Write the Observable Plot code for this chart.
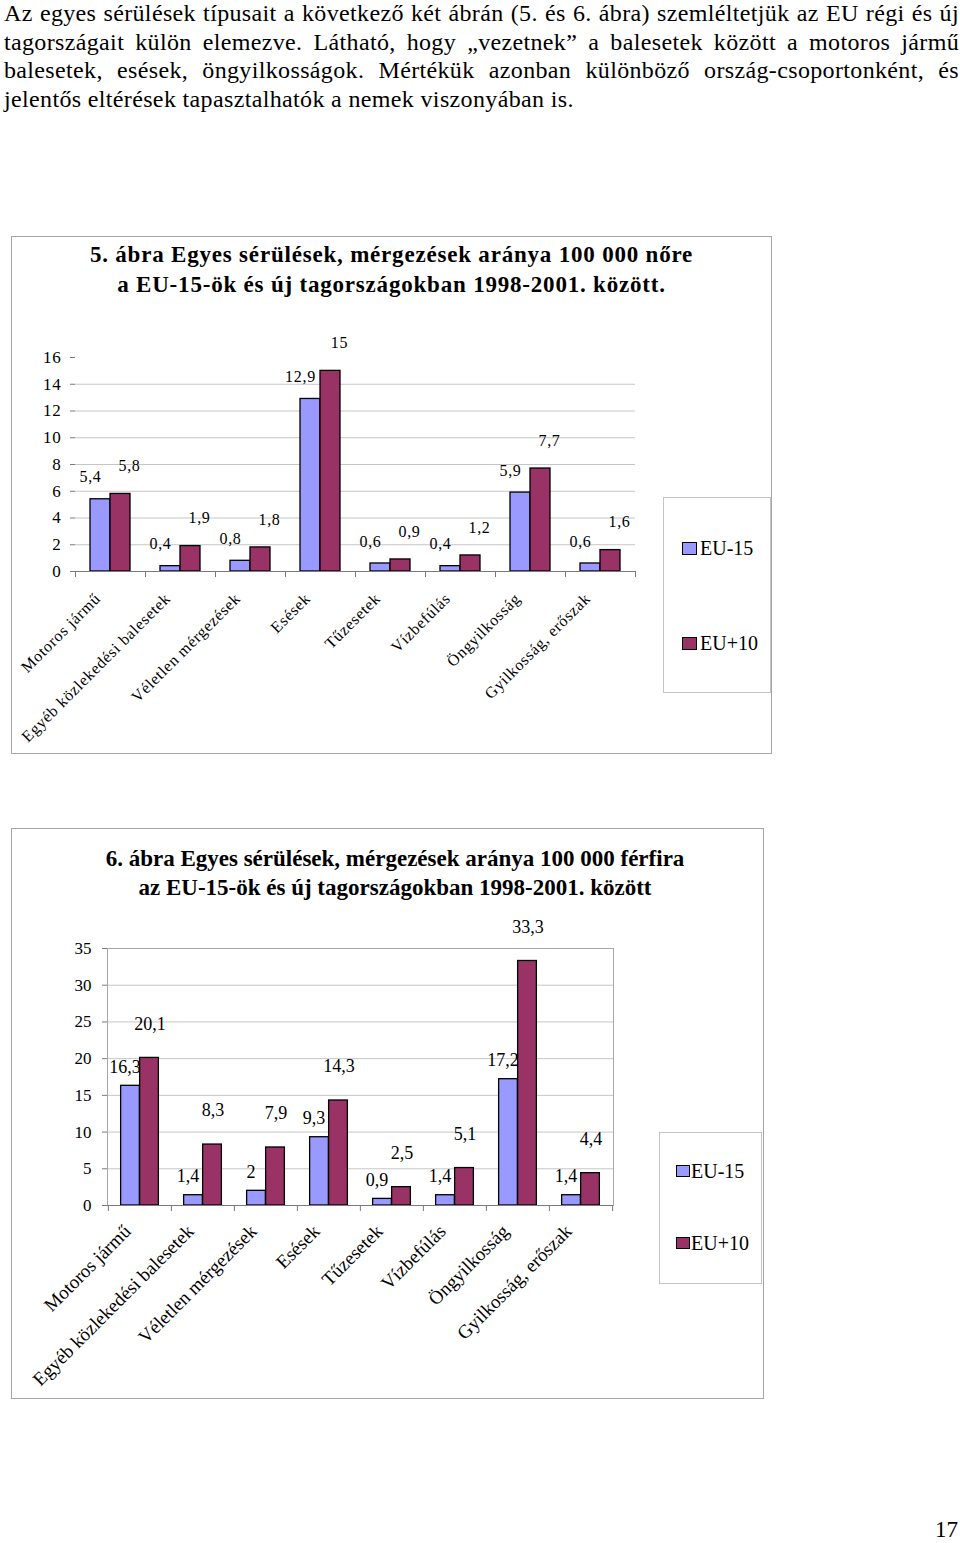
<!DOCTYPE html>
<html>
<head>
<meta charset="utf-8">
<script src="https://cdn.jsdelivr.net/npm/d3@7"></script>
<script src="https://cdn.jsdelivr.net/npm/@observablehq/plot@0.6"></script>
<style>
  body { margin: 0; background: #fff; color: #000; font-family: "Liberation Serif", "Times New Roman", serif; }
  #page { position: relative; width: 960px; height: 1543px; overflow: hidden; background: #fff; }
  .para { position: absolute; left: 4px; top: -1px; width: 955px; font-size: 24px; line-height: 28.7px; letter-spacing: 0.35px; }
  .para .j { text-align: justify; text-align-last: justify; white-space: nowrap; }
  .box { position: absolute; border: 1px solid #a6a6a6; box-sizing: border-box; }
  .title { position: absolute; text-align: center; font-weight: bold; font-size: 23px; }
  .legend { position: absolute; border: 1px solid #c4c4c4; box-sizing: border-box; }
  .sw { position: absolute; border: 1px solid #000; box-sizing: border-box; }
  .lt { position: absolute; font-size: 20px; line-height: 20px; }
  .chart { position: absolute; }
  #c1 svg text { letter-spacing: 0.7px; }
  .pn { position: absolute; right: 2px; top: 1517px; font-size: 23px; }
</style>
</head>
<body>
<div id="page">
  <div class="para">
    <div class="j">Az egyes sérülések típusait a következő két ábrán (5. és 6. ábra) szemléltetjük az EU régi és új</div>
    <div class="j">tagországait külön elemezve. Látható, hogy „vezetnek” a balesetek között a motoros jármű</div>
    <div class="j">balesetek, esések, öngyilkosságok. Mértékük azonban különböző ország-csoportonként, és</div>
    <div>jelentős eltérések tapasztalhatók a nemek viszonyában is.</div>
  </div>

  <div class="box" style="left:11px; top:236px; width:761px; height:518px;"></div>
  <div class="title" id="t1" style="left:11px; top:240px; width:761px; line-height:30px; letter-spacing:0.8px;"></div>
  <div class="chart" id="c1" style="left:0px; top:330px;"></div>
  <div class="legend" id="lg1" style="left:663px; top:497px; width:108px; height:196px;"></div>

  <div class="box" style="left:11px; top:828px; width:753px; height:571px;"></div>
  <div class="title" id="t2" style="left:19px; top:844px; width:752px; line-height:29px;"></div>
  <div class="chart" id="c2" style="left:0px; top:930px;"></div>
  <div class="legend" id="lg2" style="left:659px; top:1132px; width:103px; height:152px;"></div>

  <div class="pn">17</div>
</div>

<script>
// ---- data ----
const categories = ["Motoros jármű", "Egyéb közlekedési balesetek", "Véletlen mérgezések", "Esések",
                    "Tűzesetek", "Vízbefúlás", "Öngyilkosság", "Gyilkosság, erőszak"];
const seriesNames = ["EU-15", "EU+10"];
const seriesColors = ["#9999ff", "#993366"];
const women15 = [5.4, 0.4, 0.8, 12.9, 0.6, 0.4, 5.9, 0.6];
const women10 = [5.8, 1.9, 1.8, 15, 0.9, 1.2, 7.7, 1.6];
const men15 = [16.3, 1.4, 2, 9.3, 0.9, 1.4, 17.2, 1.4];
const men10 = [20.1, 8.3, 7.9, 14.3, 2.5, 5.1, 33.3, 4.4];
const yTicks1 = [0, 2, 4, 6, 8, 10, 12, 14, 16];
const yTicks2 = [0, 5, 10, 15, 20, 25, 30, 35];
const title1 = ["5. ábra Egyes sérülések, mérgezések aránya 100 000 nőre",
                "a EU-15-ök és új tagországokban 1998-2001. között."];
const title2 = ["6. ábra Egyes sérülések, mérgezések aránya 100 000 férfira",
                "az EU-15-ök és új tagországokban 1998-2001. között"];

// ---- helpers ----
const fmt = v => String(v).replace(".", ",");

function drawChart(el, o) {
  const rows = categories.map((c, i) => ({cat: c, eu15: o.v15[i], eu10: o.v10[i]}));
  const bw = (o.width - o.ml - o.mr) / categories.length;
  const half = bw / 2;
  const marks = [
    Plot.ruleY(o.grid, {stroke: "#c6c6c6", strokeWidth: 1}),
  ];
  if (o.frame) marks.push(Plot.frame({stroke: "#a8a8a8"}));
  marks.push(
    Plot.barY(rows, {x: "cat", y: "eu15", fill: seriesColors[0], stroke: "#000", strokeWidth: 1.3,
                     insetLeft: half - o.barW, insetRight: half}),
    Plot.barY(rows, {x: "cat", y: "eu10", fill: seriesColors[1], stroke: "#000", strokeWidth: 1.3,
                     insetLeft: half, insetRight: half - o.barW}),
    Plot.ruleY([0], {stroke: "#7a7a7a"}),
    Plot.ruleX(categories, {x: d => d, y1: 0, y2: 0, dx: -half, insetBottom: -6, stroke: "#7a7a7a"}),
    Plot.ruleX(categories.slice(-1), {x: d => d, y1: 0, y2: 0, dx: half, insetBottom: -6, stroke: "#7a7a7a"}),
    Plot.axisY({ticks: o.ticks, tickSize: 5, tickPadding: o.tickPad, stroke: "#7a7a7a", fill: "#000",
                fontSize: o.tickFont, label: null}),
    Plot.text(rows, {x: "cat", y: "eu15", text: d => fmt(d.eu15), dx: o.l15[0], dy: o.l15[1],
                     fontSize: o.lblFont, fill: "#000"}),
    Plot.text(rows, {x: "cat", y: "eu10", text: d => fmt(d.eu10), dx: o.l10[0], dy: o.l10[1],
                     fontSize: o.lblFont, fill: "#000"}),
    Plot.text(categories, {x: d => d, text: d => d, frameAnchor: "bottom", rotate: -45, textAnchor: "end",
                           dx: o.catDx, dy: o.catDy, fontSize: o.catFont, fill: "#000"})
  );
  const svg = Plot.plot({
    width: o.width, height: o.height,
    marginTop: o.mt, marginBottom: o.mb, marginLeft: o.ml, marginRight: o.mr,
    x: {domain: categories, padding: 0, axis: null},
    y: {domain: o.yDomain},
    style: {fontFamily: "'Liberation Serif', 'Times New Roman', serif", fontSize: "17px",
            background: "transparent", overflow: "visible", color: "#000"},
    marks
  });
  el.appendChild(svg);
}

function drawLegend(el, o) {
  seriesNames.forEach((name, i) => {
    const sw = document.createElement("div");
    sw.className = "sw";
    sw.style.left = o.swX + "px";
    sw.style.top = (o.ys[i] - o.sw / 2) + "px";
    sw.style.width = o.sw + 2 + "px";
    sw.style.height = o.sw + "px";
    sw.style.background = seriesColors[i];
    el.appendChild(sw);
    const t = document.createElement("div");
    t.className = "lt";
    t.style.left = o.tX + "px";
    t.style.top = (o.ys[i] - 10) + "px";
    t.textContent = name;
    el.appendChild(t);
  });
}

function fillTitle(el, lines) {
  lines.forEach(l => { const d = document.createElement("div"); d.textContent = l; el.appendChild(d); });
}

fillTitle(document.getElementById("t1"), title1);
fillTitle(document.getElementById("t2"), title2);

drawChart(document.getElementById("c1"), {
  v15: women15, v10: women10, yDomain: [0, 16], ticks: yTicks1, grid: [2, 4, 6, 8, 10, 12, 14],
  width: 660, height: 430, mt: 27, mb: 189, ml: 75, mr: 25, frame: false,
  barW: 20, tickPad: 9, tickFont: 17, lblFont: 16, catFont: 16,
  l15: [-20, -22], l10: [19, -28], catDx: -9, catDy: 28
});

drawChart(document.getElementById("c2"), {
  v15: men15, v10: men10, yDomain: [0, 35], ticks: yTicks2, grid: [5, 10, 15, 20, 25, 30],
  width: 660, height: 480, mt: 18, mb: 205, ml: 107, mr: 47, frame: true,
  barW: 19, tickPad: 11, tickFont: 17, lblFont: 18, catFont: 19,
  l15: [-15, -19], l10: [10, -34], catDx: -8, catDy: 27
});

drawLegend(document.getElementById("lg1"), {swX: 18, sw: 13, tX: 36, ys: [50, 145]});
drawLegend(document.getElementById("lg2"), {swX: 16, sw: 12, tX: 31, ys: [38, 110]});
</script>
</body>
</html>
